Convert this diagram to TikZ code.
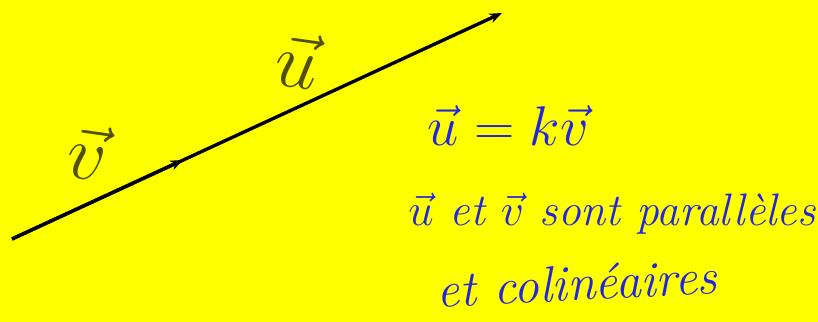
\documentclass[tikz,border=0pt]{standalone}
\usepackage{tikz}
\usetikzlibrary{arrows.meta}
\usepackage{xcolor}
\definecolor{markyellow}{RGB}{255,255,0}
\definecolor{penolive}{RGB}{80,80,0}
\definecolor{penblue}{RGB}{35,35,225}

\begin{document}
\begin{tikzpicture}[
  x=0.025cm, y=-0.025cm,
  vec/.style={-{Stealth[length=9pt,width=7pt]}, line width=2.4pt, black},
  lbl/.style={text=penolive, font=\Huge, inner sep=0pt, scale=2.2},
  note/.style={text=penblue, font=\Huge\itshape, inner sep=0pt}
]

% Background page
\fill[markyellow] (0,0) rectangle (818,322);
\useasboundingbox (0,0) rectangle (818,322);

% Points of the vectors
\coordinate (A) at (12,239);
\coordinate (B) at (183,160);
\coordinate (C) at (502,13);

% Vectors v and u
\draw[vec] (A) -- (B);
\draw[vec] (A) -- (C);

% Labels
\node[lbl, rotate=-8] (lblv) at (88,152) {$\vec{v}$};
\node[lbl, rotate=-8] (lblu) at (298,60) {$\vec{u}$};

% Handwritten notes
\node[note, scale=1.6] (eq) at (508,126) {$\vec{u}=k\vec{v}$};
\node[note, scale=1.3] (line2) at (612,214) {$\vec{u}$ et $\vec{v}$ sont parallèles};
\node[note, scale=1.45, rotate=3] (line3) at (577,283) {et colinéaires};

\end{tikzpicture}
\end{document}
